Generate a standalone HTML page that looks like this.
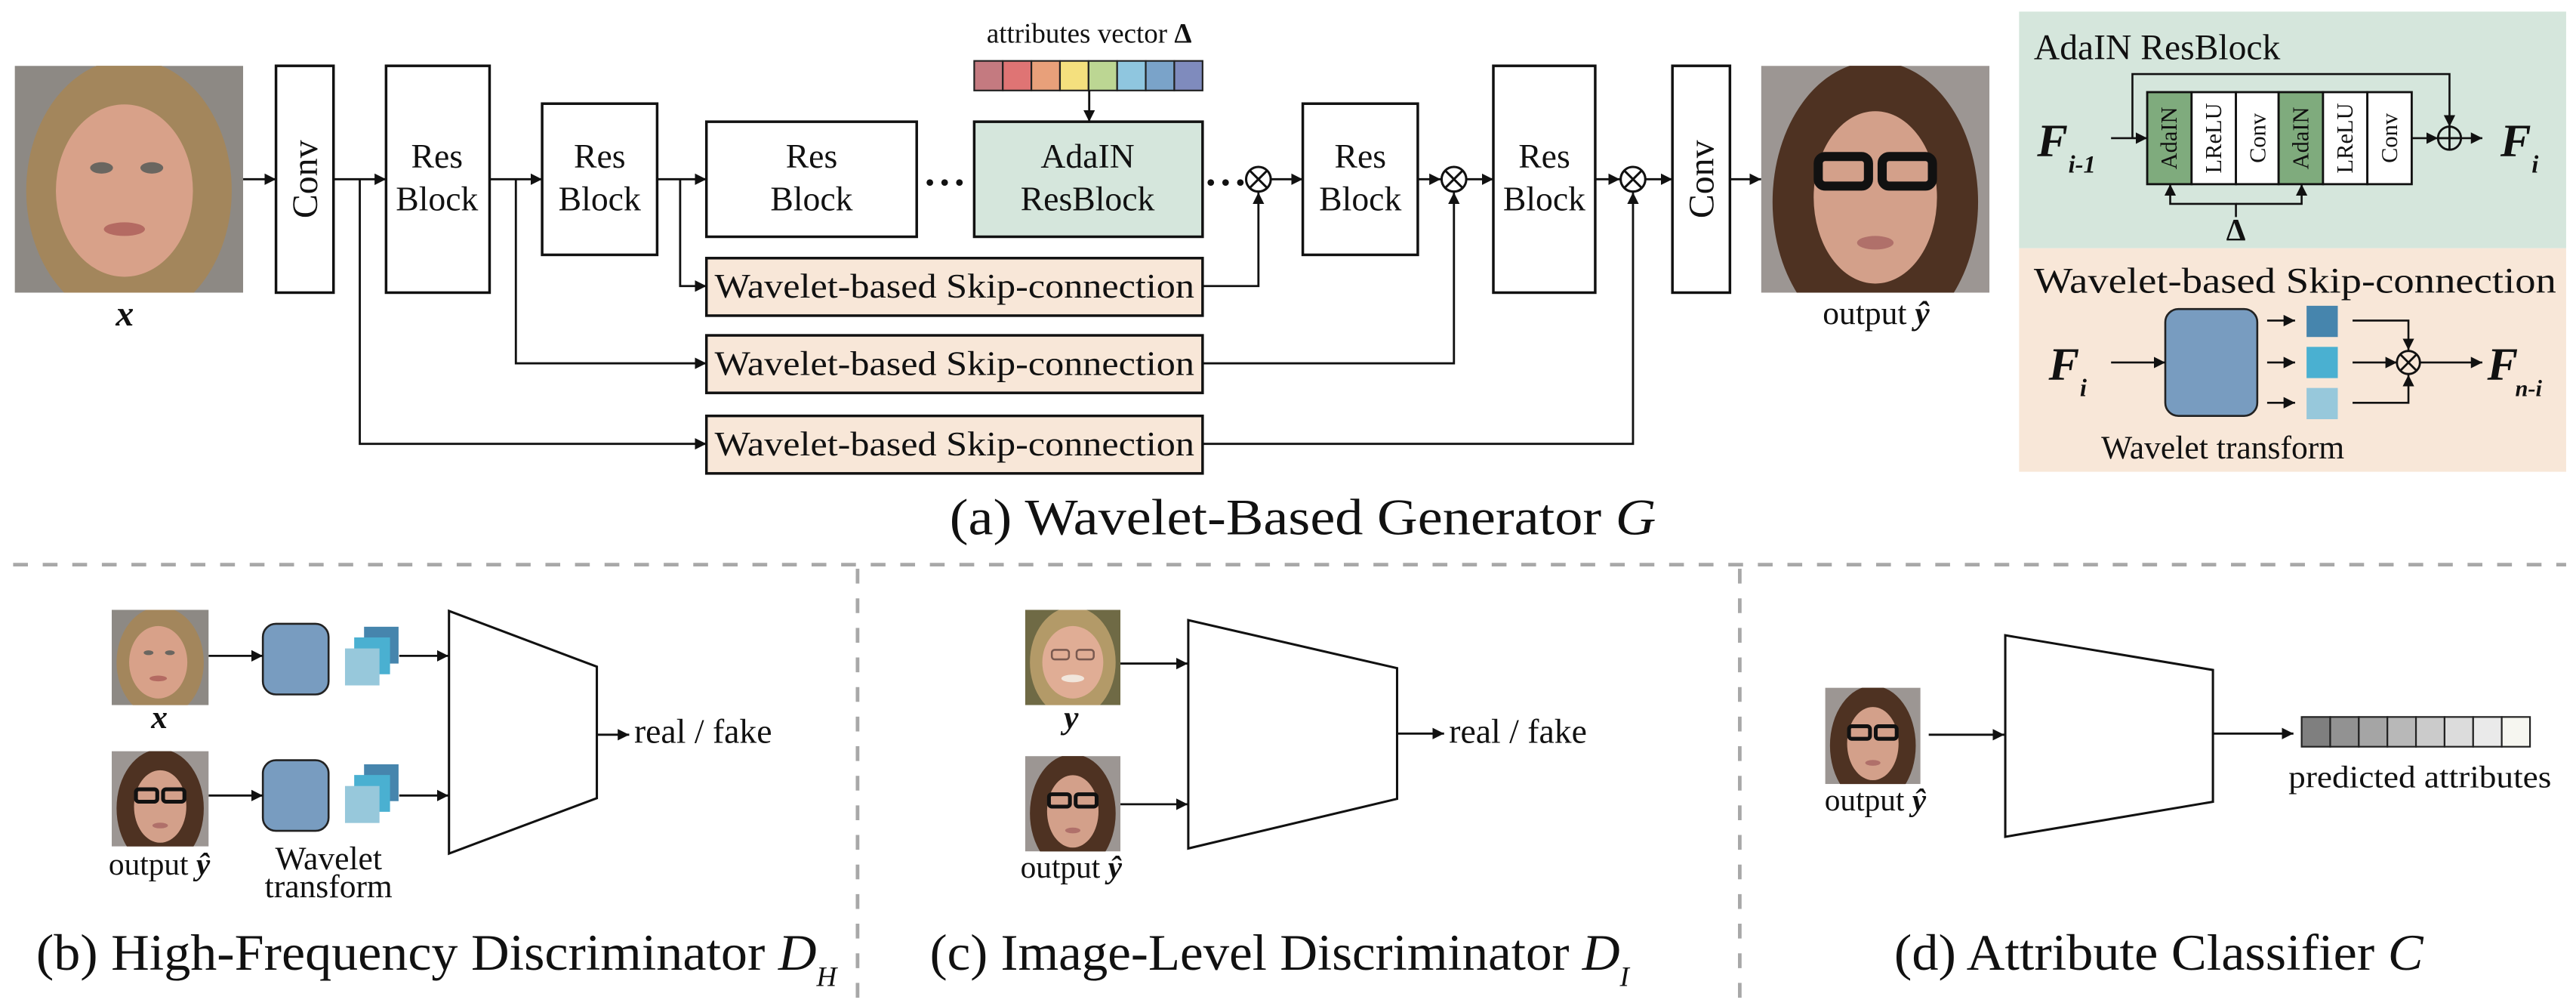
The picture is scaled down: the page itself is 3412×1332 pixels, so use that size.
<!DOCTYPE html>
<html><head><meta charset="utf-8"><style>
html,body{margin:0;padding:0;background:#fff;}
svg{display:block;}
svg text{font-family:"Liberation Serif","Times New Roman",Times,serif;fill:#111;}
</style></head><body>
<svg width="3412" height="1332" viewBox="0 0 1568 612" xmlns="http://www.w3.org/2000/svg" font-family="Liberation Serif, Times New Roman, serif">
<defs>
<marker id="ar" markerUnits="userSpaceOnUse" markerWidth="8" markerHeight="8" refX="7" refY="4" orient="auto"><path d="M0,0.5 L7,4 L0,7.5 z" fill="#111"/></marker>
<symbol id="faceA" viewBox="0 0 100 100" preserveAspectRatio="none">
<rect width="100" height="100" fill="#8d8984"/>
<ellipse cx="50" cy="55" rx="45" ry="58" fill="#a3865c"/>
<ellipse cx="48" cy="55" rx="30" ry="38" fill="#d8a189"/>
<ellipse cx="38" cy="45" rx="5" ry="2.5" fill="#6a6660"/><ellipse cx="60" cy="45" rx="5" ry="2.5" fill="#6a6660"/>
<ellipse cx="48" cy="72" rx="9" ry="3" fill="#b46a62"/>
</symbol>
<symbol id="faceB" viewBox="0 0 100 100" preserveAspectRatio="none">
<rect width="100" height="100" fill="#9c9693"/>
<ellipse cx="50" cy="60" rx="45" ry="62" fill="#4e3222"/>
<ellipse cx="50" cy="58" rx="27" ry="38" fill="#d3a08a"/>
<rect x="25" y="40" width="22" height="13" rx="3" fill="none" stroke="#111" stroke-width="4"/>
<rect x="53" y="40" width="22" height="13" rx="3" fill="none" stroke="#111" stroke-width="4"/>
<ellipse cx="50" cy="78" rx="8" ry="3" fill="#b0706a"/>
</symbol>
<symbol id="faceC" viewBox="0 0 100 100" preserveAspectRatio="none">
<rect width="100" height="100" fill="#6f6a45"/>
<ellipse cx="50" cy="55" rx="45" ry="58" fill="#b39a68"/>
<ellipse cx="50" cy="55" rx="32" ry="38" fill="#e0ad95"/>
<rect x="28" y="42" width="18" height="10" rx="3" fill="none" stroke="#7a5a50" stroke-width="2"/>
<rect x="54" y="42" width="18" height="10" rx="3" fill="none" stroke="#7a5a50" stroke-width="2"/>
<ellipse cx="50" cy="72" rx="12" ry="4" fill="#f1e6dc"/>
</symbol>
</defs>

<!-- ===== (a) Generator ===== -->
<use href="#faceA" x="9" y="40" width="139" height="138"/>
<text x="76" y="198" font-size="22" font-style="italic" font-weight="bold" text-anchor="middle">x</text>

<g fill="#fff" stroke="#111" stroke-width="1.6">
<rect x="168" y="40" width="35" height="138"/>
<rect x="235" y="40" width="63" height="138"/>
<rect x="330" y="63" width="70" height="92"/>
<rect x="430" y="74" width="128" height="70"/>
<rect x="593" y="74" width="139" height="70" fill="#d5e6dc"/>
<rect x="793" y="63" width="70" height="92"/>
<rect x="909" y="40" width="62" height="138"/>
<rect x="1018" y="40" width="35" height="138"/>
<rect x="430" y="157" width="302" height="35" fill="#f8e7d8"/>
<rect x="430" y="204" width="302" height="35" fill="#f8e7d8"/>
<rect x="430" y="253" width="302" height="35" fill="#f8e7d8"/>
</g>
<text transform="translate(193,109) rotate(-90)" font-size="22" text-anchor="middle">Conv</text>
<text transform="translate(1043,109) rotate(-90)" font-size="22" text-anchor="middle">Conv</text>
<g font-size="21" text-anchor="middle">
<text x="266" y="102">Res</text><text x="266" y="128">Block</text>
<text x="365" y="102">Res</text><text x="365" y="128">Block</text>
<text x="494" y="102">Res</text><text x="494" y="128">Block</text>
<text x="662" y="102">AdaIN</text><text x="662" y="128">ResBlock</text>
<text x="828" y="102">Res</text><text x="828" y="128">Block</text>
<text x="940" y="102">Res</text><text x="940" y="128">Block</text>
</g>
<g font-size="21">
<text x="435" y="181" textLength="292" lengthAdjust="spacingAndGlyphs">Wavelet-based Skip-connection</text>
<text x="435" y="228" textLength="292" lengthAdjust="spacingAndGlyphs">Wavelet-based Skip-connection</text>
<text x="435" y="277" textLength="292" lengthAdjust="spacingAndGlyphs">Wavelet-based Skip-connection</text>
</g>

<!-- attributes vector -->
<text x="663" y="26" font-size="17" text-anchor="middle">attributes vector <tspan font-weight="bold">Δ</tspan></text>
<g stroke="#222" stroke-width="1">
<rect x="593" y="37" width="17.4" height="18" fill="#c47a80"/>
<rect x="610.4" y="37" width="17.4" height="18" fill="#df7474"/>
<rect x="627.8" y="37" width="17.4" height="18" fill="#e8a07a"/>
<rect x="645.2" y="37" width="17.4" height="18" fill="#f4e07e"/>
<rect x="662.6" y="37" width="17.4" height="18" fill="#bcd693"/>
<rect x="680" y="37" width="17.4" height="18" fill="#8fc6df"/>
<rect x="697.4" y="37" width="17.4" height="18" fill="#7aa3c9"/>
<rect x="714.8" y="37" width="17.2" height="18" fill="#7f8bbd"/>
</g>

<g stroke="#111" stroke-width="1.3" fill="none" marker-end="url(#ar)">
<line x1="663" y1="55" x2="663" y2="74"/>
<line x1="148" y1="109" x2="168" y2="109"/>
<line x1="203" y1="109" x2="235" y2="109"/>
<line x1="298" y1="109" x2="330" y2="109"/>
<line x1="400" y1="109" x2="430" y2="109"/>
<line x1="774" y1="109" x2="793" y2="109"/>
<line x1="863" y1="109" x2="877" y2="109"/>
<line x1="893" y1="109" x2="909" y2="109"/>
<line x1="971" y1="109" x2="986" y2="109"/>
<line x1="1002" y1="109" x2="1018" y2="109"/>
<line x1="1053" y1="109" x2="1072" y2="109"/>
<polyline points="414,109 414,174 430,174"/>
<polyline points="314,109 314,221 430,221"/>
<polyline points="219,109 219,270 430,270"/>
<polyline points="732,174 766,174 766,117"/>
<polyline points="732,221 885,221 885,117"/>
<polyline points="732,270 994,270 994,117"/>
</g>
<g fill="#111">
<circle cx="566" cy="111" r="2"/><circle cx="575" cy="111" r="2"/><circle cx="584" cy="111" r="2"/>
<circle cx="737" cy="111" r="2"/><circle cx="746" cy="111" r="2"/><circle cx="755" cy="111" r="2"/>
</g>
<g stroke="#111" stroke-width="1.4" fill="#fff">
<circle cx="766" cy="109" r="7.5"/><path d="M760.7,103.7 L771.3,114.3 M771.3,103.7 L760.7,114.3"/>
<circle cx="885" cy="109" r="7.5"/><path d="M879.7,103.7 L890.3,114.3 M890.3,103.7 L879.7,114.3"/>
<circle cx="994" cy="109" r="7.5"/><path d="M988.7,103.7 L999.3,114.3 M999.3,103.7 L988.7,114.3"/>
</g>

<use href="#faceB" x="1072" y="40" width="139" height="138"/>
<text x="1142" y="197" font-size="20" text-anchor="middle">output <tspan font-style="italic" font-weight="bold">ŷ</tspan></text>

<text x="578" y="325" font-size="31" textLength="430" lengthAdjust="spacingAndGlyphs">(a) Wavelet-Based Generator <tspan font-style="italic">G</tspan></text>

<!-- ===== side panel ===== -->
<rect x="1229" y="7" width="333" height="144" fill="#d5e6dc"/>
<rect x="1229" y="151" width="333" height="136" fill="#f8e7d8"/>
<text x="1238" y="36" font-size="22" textLength="150" lengthAdjust="spacingAndGlyphs">AdaIN ResBlock</text>
<text x="1240" y="95" font-size="28" font-weight="bold" font-style="italic">F</text>
<text x="1259" y="105" font-size="15" font-weight="bold" font-style="italic">i-1</text>
<g stroke="#111" stroke-width="1.3">
<rect x="1307" y="56" width="27" height="56" fill="#7fab7d"/>
<rect x="1334" y="56" width="27" height="56" fill="#fff"/>
<rect x="1361" y="56" width="26" height="56" fill="#fff"/>
<rect x="1387" y="56" width="27" height="56" fill="#7fab7d"/>
<rect x="1414" y="56" width="27" height="56" fill="#fff"/>
<rect x="1441" y="56" width="27" height="56" fill="#fff"/>
</g>
<g font-size="14" text-anchor="middle">
<text transform="translate(1325,84) rotate(-90)">AdaIN</text>
<text transform="translate(1352,84) rotate(-90)">LReLU</text>
<text transform="translate(1379,84) rotate(-90)">Conv</text>
<text transform="translate(1405,84) rotate(-90)">AdaIN</text>
<text transform="translate(1432,84) rotate(-90)">LReLU</text>
<text transform="translate(1459,84) rotate(-90)">Conv</text>
</g>
<g stroke="#111" stroke-width="1.2" fill="none" marker-end="url(#ar)">
<line x1="1285" y1="84" x2="1307" y2="84"/>
<polyline points="1298,84 1298,45 1491,45 1491,77"/>
<line x1="1468" y1="84" x2="1484" y2="84"/>
<line x1="1498" y1="84" x2="1511" y2="84"/>
<polyline points="1361,132 1361,124 1321,124 1321,112"/>
<polyline points="1361,124 1401,124 1401,112"/>
</g>
<circle cx="1491" cy="84" r="7" fill="none" stroke="#111" stroke-width="1.3"/>
<path d="M1484,84 H1498 M1491,77 V91" stroke="#111" stroke-width="1.3"/>
<text x="1361" y="146" font-size="19" font-weight="bold" text-anchor="middle">Δ</text>
<text x="1522" y="95" font-size="28" font-weight="bold" font-style="italic">F</text>
<text x="1541" y="105" font-size="15" font-weight="bold" font-style="italic">i</text>

<text x="1238" y="178" font-size="22" textLength="318" lengthAdjust="spacingAndGlyphs">Wavelet-based Skip-connection</text>
<text x="1247" y="231" font-size="28" font-weight="bold" font-style="italic">F</text>
<text x="1266" y="241" font-size="15" font-weight="bold" font-style="italic">i</text>
<rect x="1318" y="188" width="56" height="65" rx="8" fill="#789cc0" stroke="#222" stroke-width="1.2"/>
<rect x="1404" y="186" width="19" height="19" fill="#4685ad"/>
<rect x="1404" y="211" width="19" height="19" fill="#4ab0d1"/>
<rect x="1404" y="236" width="19" height="19" fill="#97c8db"/>
<g stroke="#111" stroke-width="1.2" fill="none" marker-end="url(#ar)">
<line x1="1285" y1="220.5" x2="1318" y2="220.5"/>
<line x1="1380" y1="195" x2="1397" y2="195"/>
<line x1="1380" y1="220.5" x2="1397" y2="220.5"/>
<line x1="1380" y1="245" x2="1397" y2="245"/>
<polyline points="1432,195 1466,195 1466,213"/>
<polyline points="1432,245 1466,245 1466,228"/>
<line x1="1432" y1="220.5" x2="1459" y2="220.5"/>
<line x1="1473" y1="220.5" x2="1511" y2="220.5"/>
</g>
<circle cx="1466" cy="220.5" r="7" fill="none" stroke="#111" stroke-width="1.3"/>
<path d="M1461,215.5 L1471,225.5 M1471,215.5 L1461,225.5" stroke="#111" stroke-width="1.3"/>
<text x="1514" y="231" font-size="28" font-weight="bold" font-style="italic">F</text>
<text x="1531" y="241" font-size="14" font-weight="bold" font-style="italic">n-i</text>
<text x="1353" y="279" font-size="20" text-anchor="middle" textLength="148" lengthAdjust="spacingAndGlyphs">Wavelet transform</text>

<!-- dashed separators -->
<g stroke="#a8a8a8" stroke-width="2.2" stroke-dasharray="9,9" fill="none">
<line x1="8" y1="343.5" x2="1562" y2="343.5"/>
<line x1="522" y1="346" x2="522" y2="612"/>
<line x1="1059" y1="346" x2="1059" y2="612"/>
</g>

<!-- ===== (b) ===== -->
<use href="#faceA" x="68" y="371" width="59" height="58"/>
<text x="97" y="443" font-size="20" font-style="italic" font-weight="bold" text-anchor="middle">x</text>
<use href="#faceB" x="68" y="457" width="59" height="58"/>
<text x="97" y="532" font-size="19" text-anchor="middle">output <tspan font-style="italic" font-weight="bold">ŷ</tspan></text>
<rect x="160" y="379.5" width="40" height="43" rx="8" fill="#789cc0" stroke="#222" stroke-width="1.2"/>
<rect x="160" y="462.5" width="40" height="43" rx="8" fill="#789cc0" stroke="#222" stroke-width="1.2"/>
<rect x="221.6" y="381.3" width="21" height="22.4" fill="#4685ad"/>
<rect x="215.6" y="387.8" width="21.8" height="22.4" fill="#4ab0d1"/>
<rect x="210" y="394.5" width="21" height="22.5" fill="#97c8db"/>
<rect x="221.6" y="465" width="21" height="22.4" fill="#4685ad"/>
<rect x="215.6" y="471.5" width="21.8" height="22.4" fill="#4ab0d1"/>
<rect x="210" y="478.2" width="21" height="22.5" fill="#97c8db"/>
<polygon points="273.3,371.7 363.3,405.6 363.3,485.6 273.3,519.3" fill="#fff" stroke="#111" stroke-width="1.4"/>
<g stroke="#111" stroke-width="1.3" fill="none" marker-end="url(#ar)">
<line x1="127" y1="399" x2="160" y2="399"/>
<line x1="243" y1="399" x2="273" y2="399"/>
<line x1="127" y1="484" x2="160" y2="484"/>
<line x1="243" y1="484" x2="273" y2="484"/>
<line x1="363" y1="447" x2="383" y2="447"/>
</g>
<text x="386" y="452" font-size="21">real / fake</text>
<text x="200" y="529" font-size="20" text-anchor="middle">Wavelet</text>
<text x="200" y="546" font-size="20" text-anchor="middle">transform</text>
<text x="22" y="590" font-size="31" textLength="475" lengthAdjust="spacingAndGlyphs">(b) High-Frequency Discriminator <tspan font-style="italic">D</tspan></text>
<text x="497" y="600" font-size="17" font-style="italic">H</text>

<!-- ===== (c) ===== -->
<use href="#faceC" x="624" y="371" width="58" height="58"/>
<text x="652" y="443" font-size="20" font-style="italic" font-weight="bold" text-anchor="middle">y</text>
<use href="#faceB" x="624" y="460" width="58" height="58"/>
<text x="652" y="534" font-size="19" text-anchor="middle">output <tspan font-style="italic" font-weight="bold">ŷ</tspan></text>
<polygon points="723.3,377.3 850.4,406.5 850.4,486 723.3,516.2" fill="#fff" stroke="#111" stroke-width="1.4"/>
<g stroke="#111" stroke-width="1.3" fill="none" marker-end="url(#ar)">
<line x1="682" y1="403.7" x2="723" y2="403.7"/>
<line x1="682" y1="489.3" x2="723" y2="489.3"/>
<line x1="850" y1="446.3" x2="879" y2="446.3"/>
</g>
<text x="882" y="452" font-size="21">real / fake</text>
<text x="566" y="590" font-size="31" textLength="420" lengthAdjust="spacingAndGlyphs">(c) Image-Level Discriminator <tspan font-style="italic">D</tspan></text>
<text x="986" y="600" font-size="17" font-style="italic">I</text>

<!-- ===== (d) ===== -->
<use href="#faceB" x="1111" y="418.4" width="58" height="58.6"/>
<text x="1141.5" y="493" font-size="19" text-anchor="middle">output <tspan font-style="italic" font-weight="bold">ŷ</tspan></text>
<polygon points="1220.6,386.5 1347,407.6 1347,487.8 1220.6,509.1" fill="#fff" stroke="#111" stroke-width="1.4"/>
<g stroke="#111" stroke-width="1.3" fill="none" marker-end="url(#ar)">
<line x1="1174" y1="447" x2="1220" y2="447"/>
<line x1="1347" y1="446.3" x2="1396" y2="446.3"/>
</g>
<g stroke="#222" stroke-width="1">
<rect x="1401" y="436.2" width="17.4" height="18.1" fill="#7f7f7f"/>
<rect x="1418.4" y="436.2" width="17.4" height="18.1" fill="#929292"/>
<rect x="1435.8" y="436.2" width="17.4" height="18.1" fill="#a5a5a5"/>
<rect x="1453.2" y="436.2" width="17.4" height="18.1" fill="#b8b8b8"/>
<rect x="1470.6" y="436.2" width="17.4" height="18.1" fill="#cbcbcb"/>
<rect x="1488" y="436.2" width="17.4" height="18.1" fill="#dcdcdc"/>
<rect x="1505.4" y="436.2" width="17.4" height="18.1" fill="#eaeaea"/>
<rect x="1522.8" y="436.2" width="17.2" height="18.1" fill="#f6f6f0"/>
</g>
<text x="1393" y="479" font-size="19" textLength="160" lengthAdjust="spacingAndGlyphs">predicted attributes</text>
<text x="1153" y="590" font-size="31" textLength="322" lengthAdjust="spacingAndGlyphs">(d) Attribute Classifier <tspan font-style="italic">C</tspan></text>
</svg>
</body></html>
